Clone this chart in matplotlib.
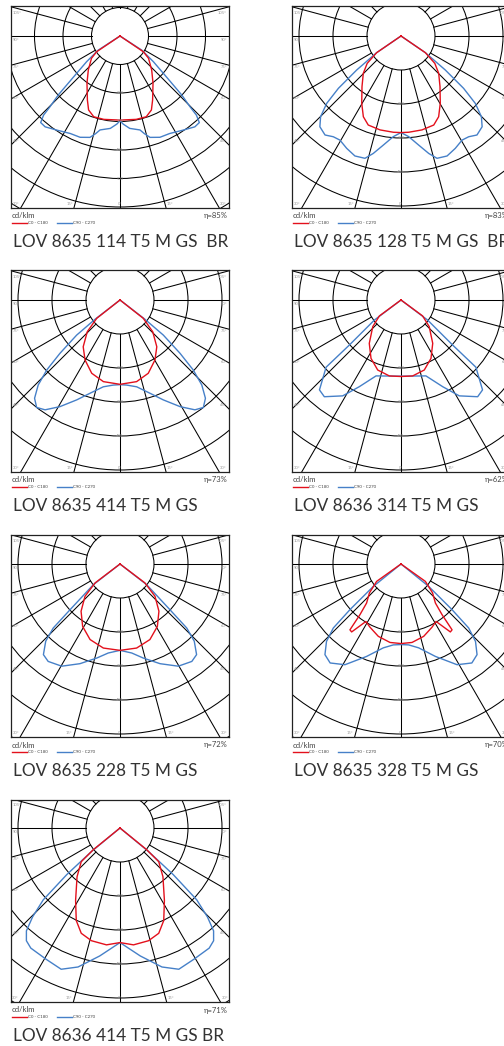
import matplotlib
matplotlib.use("Agg")
import matplotlib.pyplot as plt
import numpy as np
from matplotlib.patches import Circle
from matplotlib.lines import Line2D

W, H = 504, 1046
RED = "#e3101c"
BLUE = "#4680c8"
FONT = ["Lato", "DejaVu Sans"]

titles = ["LOV 8635 114 T5 M GS  BR", "LOV 8635 128 T5 M GS  BR",
          "LOV 8635 414 T5 M GS", "LOV 8636 314 T5 M GS",
          "LOV 8635 228 T5 M GS", "LOV 8635 328 T5 M GS",
          "LOV 8636 414 T5 M GS BR"]
eta = ["η=85%", "η=83%", "η=73%", "η=62%", "η=72%", "η=70%", "η=71%"]

# luminous intensity (cd/klm) vs gamma (deg from nadir), C0-C180 and C90-C270
a_g0 = [0, 11, 18, 23, 27, 35, 43, 52, 56, 90]
a_c0 = [295, 298, 298, 282, 252, 202, 163, 127, 99, 0]
a_g90 = [0, 2, 6, 12, 14, 16.5, 21.5, 27, 34, 39.5, 42.5, 44, 44.7, 46.3, 47.4, 49.3, 52.4, 57, 90]
a_c90 = [297, 309, 326, 337, 353, 371, 382, 384, 398, 413, 412, 386, 349, 300, 254, 200, 148, 92, 0]

b_g0 = [0, 4.5, 12.6, 20.2, 25, 30.3, 37.6, 45.3, 51, 55.6, 90]
b_c0 = [284, 284, 283, 279, 262, 229, 188, 156, 128, 87, 0]
b_g90 = [0, 4.4, 9.2, 13.3, 16.4, 21, 25.8, 30.4, 33.9, 37.5, 41.8, 44.9, 47.8, 50.1, 52.5, 55.6, 90]
b_c90 = [284, 297, 325, 355, 375, 378, 367, 355, 357, 367, 358, 335, 295, 240, 164, 87, 0]

c_g0 = [0, 11.5, 21.1, 30.3, 38.2, 45.9, 51.8, 90]
c_c0 = [248, 245, 231, 204, 175, 134, 87, 0]
c_g90 = [0, 4.5, 10.9, 17.8, 23.4, 29.4, 34.3, 37.8, 41, 43.9, 46.3, 48.4, 51, 52.3, 90]
c_c90 = [249, 251, 260, 288, 320, 360, 391, 400, 383, 347, 298, 236, 164, 93, 0]

d_g0 = [0, 8.7, 18.4, 27.2, 36.2, 46.7, 53.6, 90]
d_c0 = [225, 226, 217, 193, 158, 114, 79, 0]
d_g90 = [0, 18.2, 25.7, 31.3, 38.4, 42.2, 48.1, 48.9, 53, 90]
d_c90 = [224, 235, 283, 330, 363, 357, 296, 202, 98, 0]

e_g0 = [0, 11.2, 21.6, 30.9, 39.5, 47.3, 52.8, 90]
e_c0 = [254, 252, 239, 214, 180, 140, 92, 0]
e_g90 = [0, 7.5, 13.9, 21.9, 29.7, 36.4, 40.2, 43.9, 46.2, 47.7, 52.2, 90]
e_c90 = [254, 264, 285, 316, 346, 356, 349, 315, 272, 192, 99, 0]

f_g0 = [0, 8, 17.4, 26.2, 31.4, 36, 37.8, 39, 41.4, 47.5, 54.5, 90]
f_c0 = [234, 233, 223, 207, 198, 247, 245, 192, 153, 126, 88, 0]
f_g90 = [0, 5.4, 11.9, 20.4, 29.1, 35.6, 40, 43.9, 46.6, 48.2, 51, 90]
f_c90 = [237, 239, 252, 290, 339, 358, 348, 316, 274, 201, 105, 0]

g_g0 = [0, 6.6, 14.2, 20.2, 25.3, 31.5, 41.4, 49, 50.9, 90]
g_c0 = [337, 346, 342, 330, 301, 250, 191, 151, 101, 0]
g_g90 = [0, 9, 16.8, 22.6, 29.4, 36.6, 39.7, 42.3, 44.5, 46.9, 48.8, 50.5, 90]
g_c90 = [337, 381, 427, 450, 443, 440, 431, 409, 367, 309, 208, 108, 0]

curves = [(a_g0, a_c0, a_g90, a_c90), (b_g0, b_c0, b_g90, b_c90),
          (c_g0, c_c0, c_g90, c_c90), (d_g0, d_c0, d_g90, d_c90),
          (e_g0, e_c0, e_g90, e_c90), (f_g0, f_c0, f_g90, f_c90),
          (g_g0, g_c0, g_g90, g_c90)]

# panel layout in pixels: box left, box top, px per ring, px above centre
layout = [(11, 6, 28.5, 30), (292, 6, 34, 30),
          (11, 270, 34, 30), (292, 270, 34, 30),
          (11, 535, 34, 29), (292, 535, 34, 29),
          (11, 800, 34, 28)]
STEP = 100
BW, BH = 218, 202


def mirror(g, v):
    g = np.radians(np.asarray(g, float))
    v = np.asarray(v, float)
    x = v * np.sin(g)
    y = -v * np.cos(g)
    return np.concatenate([-x[::-1], x[1:]]), np.concatenate([y[::-1], y[1:]])


def fig_xy(x, y):
    return x / W, 1 - y / H


fig = plt.figure(figsize=(W / 100, H / 100), dpi=100)
fig.patch.set_facecolor("white")

for i, (left, top, u, T) in enumerate(layout):
    g0, c0, g90, c90 = curves[i]
    ax = fig.add_axes([left / W, 1 - (top + BH) / H, BW / W, BH / H])
    s = STEP / u
    L = 109
    B = BH - T
    ax.set_xlim(-L * s, (BW - L) * s)
    ax.set_ylim(-B * s, T * s)
    ax.set_xticks([])
    ax.set_yticks([])
    for sp in ax.spines.values():
        sp.set_linewidth(0.9)
        sp.set_color("#222222")
    rmax = np.hypot(BW, BH) * s
    k = 1
    while k * STEP < rmax:
        ax.add_patch(Circle((0, 0), k * STEP, fill=False, lw=0.75, ec="black"))
        if k >= 2 and k * u < B - 5:
            ax.text(0, -k * STEP, str(k * STEP), fontsize=3, color="#999999",
                    ha="center", va="center", family=FONT)
        k += 1
    for a in np.arange(0, 360, 15):
        t = np.radians(a)
        ax.plot([STEP * np.sin(t), rmax * np.sin(t)],
                [-STEP * np.cos(t), -rmax * np.cos(t)], color="black", lw=0.75)

    # angle labels
    for a in [45, 60, 75, 90, 105]:
        t = np.radians(a)
        yl = -(L - 8) * np.cos(t) / np.sin(t) - 4
        ax.text(-(L - 2) * s, yl * s, f"{a}°", fontsize=3, color="#999999",
                ha="left", va="center", family=FONT)
        ax.text((L - 2) * s, yl * s, f"{a}°", fontsize=3, color="#999999",
                ha="right", va="center", family=FONT)
    for a in [0, 15, 30]:
        xb = B * np.tan(np.radians(a))
        yb = (-B + 4) * s
        if a == 0:
            ax.text(0, yb, "0°", fontsize=3, color="#999999", ha="center", va="center", family=FONT)
        else:
            ax.text(-(xb + 1) * s, yb, f"{a}°", fontsize=3, color="#999999",
                    ha="right", va="center", family=FONT)
            ax.text((xb + 1) * s, yb, f"{a}°", fontsize=3, color="#999999",
                    ha="left", va="center", family=FONT)

    x, y = mirror(g90, c90)
    ax.plot(x, y, color=BLUE, lw=1.0, solid_joinstyle="round")
    x, y = mirror(g0, c0)
    ax.plot(x, y, color=RED, lw=1.0, solid_joinstyle="round")

    # texts under the box
    bottom = top + BH
    fig.text(*fig_xy(left + 1, bottom + 8), "cd/klm", fontsize=5.5, color="#444444",
             ha="left", va="center", family=FONT)
    fig.text(*fig_xy(left + BW - 1, bottom + 8), eta[i], fontsize=5.5, color="#444444",
             ha="right", va="center", family=FONT)
    fig.add_artist(Line2D([(left + 1) / W, (left + 16) / W],
                          [1 - (bottom + 15) / H] * 2, color=RED, lw=1.0))
    fig.text(*fig_xy(left + 17, bottom + 15), "C0 - C180", fontsize=3.2, color="#444444",
             ha="left", va="center", family=FONT)
    fig.add_artist(Line2D([(left + 46) / W, (left + 61) / W],
                          [1 - (bottom + 15) / H] * 2, color=BLUE, lw=1.0))
    fig.text(*fig_xy(left + 62, bottom + 15), "C90 - C270", fontsize=3.2, color="#444444",
             ha="left", va="center", family=FONT)
    fig.text(*fig_xy(left + 2, bottom + 34), titles[i], fontsize=12.4, color="#333333",
             ha="left", va="center", family=FONT)

fig.savefig("out.png", dpi=100, facecolor="white")
